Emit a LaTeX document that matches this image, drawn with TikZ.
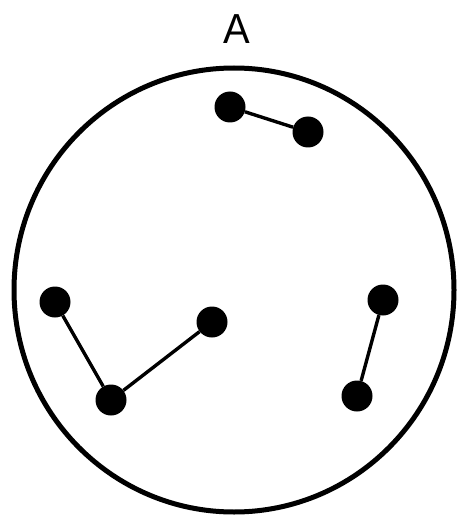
\documentclass[tikz,border=0pt]{standalone}
\usepackage{fontspec}
\setmainfont{Liberation Sans}
\usetikzlibrary{shapes.geometric}
\begin{document}
\begin{tikzpicture}[x=1pt,y=-1pt,
  dot/.style={circle,fill=black,minimum size=31pt,inner sep=0pt},
  link/.style={line width=3.4pt},
  rim/.style={line width=5pt}]
\useasboundingbox (0,0) rectangle (464,521);
\node[font=\fontsize{42}{46}\selectfont,inner sep=0pt,anchor=base,xscale=0.95] (lab) at (237,44) {A};
\node[draw,rim,ellipse,minimum width=440pt,minimum height=444pt,inner sep=0pt] (ring) at (234,290) {};
\node[dot] (a1) at (230,107) {};
\node[dot] (a2) at (308,132) {};
\node[dot] (b1) at (55,302) {};
\node[dot] (b2) at (111,400) {};
\node[dot] (b3) at (212,322) {};
\node[dot] (c1) at (383,300) {};
\node[dot] (c2) at (357,396) {};
\draw[link] (a1) -- (a2);
\draw[link] (b1) -- (b2) -- (b3);
\draw[link] (c1) -- (c2);
\end{tikzpicture}
\end{document}
